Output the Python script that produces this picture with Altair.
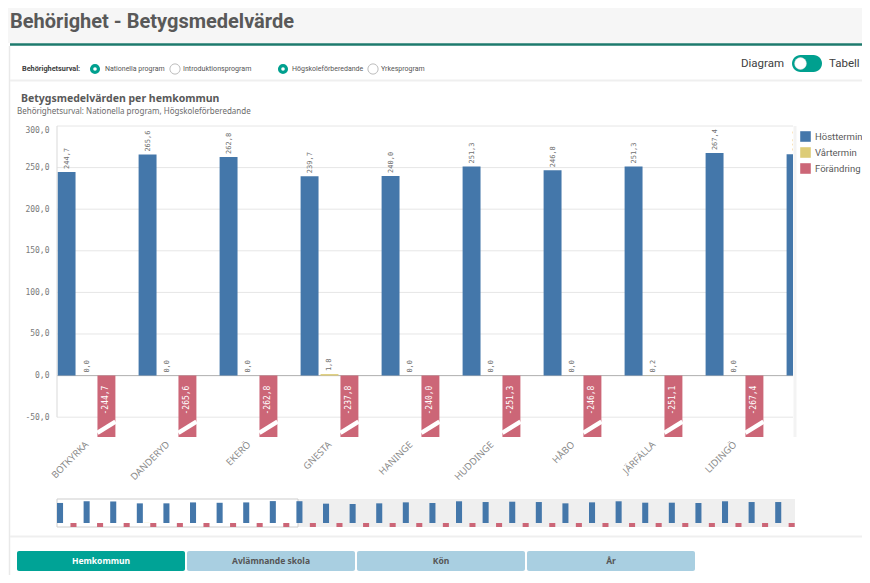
import altair as alt
import pandas as pd

# ---------------- data ----------------
kommuner = ["BOTKYRKA", "DANDERYD", "EKERÖ", "GNESTA", "HANINGE", "HUDDINGE", "HÅBO",
            "JÄRFÄLLA", "LIDINGÖ", "NACKA", "NORRTÄLJE", "NYKVARN", "NYNÄSHAMN", "SALEM",
            "SIGTUNA", "SOLLENTUNA", "SOLNA", "STOCKHOLM", "SUNDBYBERG", "SÖDERTÄLJE",
            "TYRESÖ", "TÄBY", "UPPLANDS VÄSBY", "UPPLANDS-BRO", "VALLENTUNA", "VAXHOLM",
            "VÄRMDÖ", "ÖSTERÅKER"]
hosttermin = [244.7, 265.6, 262.8, 239.7, 240.0, 251.3, 246.8, 251.3, 267.4,
              266.0, 236.0, 232.0, 240.0, 252.0, 244.0, 265.0, 256.0, 260.0, 256.0,
              240.0, 252.0, 265.0, 248.0, 248.0, 244.0, 265.0, 256.0, 256.0]
vartermin = [0.0, 0.0, 0.0, 1.8, 0.0, 0.0, 0.0, 0.2, 0.0,
             0.0, 0.0, 0.0, 0.0, 0.0, 0.0, 0.0, 0.0, 0.0, 0.0,
             0.0, 0.0, 0.0, 0.0, 0.0, 0.0, 0.0, 0.0, 0.0]
forandring = [-244.7, -265.6, -262.8, -237.8, -240.0, -251.3, -246.8, -251.1, -267.4,
              -266.0, -236.0, -232.0, -240.0, -252.0, -244.0, -265.0, -256.0, -260.0, -256.0,
              -240.0, -252.0, -265.0, -248.0, -248.0, -244.0, -265.0, -256.0, -256.0]
series = ["Hösttermin", "Vårtermin", "Förändring"]
colors = ["#4477aa", "#ddcc77", "#cc6677"]
y_ticks = [-50, 0, 50, 100, 150, 200, 250, 300]
tabs = ["Hemkommun", "Avlämnande skola", "Kön", "År"]
n_window = 10        # groups inside the scroll window (9 labelled + 1 cut off)

rows = []
for i, k in enumerate(kommuner):
    for s, vals in zip(series, [hosttermin, vartermin, forandring]):
        rows.append({"kommun": k, "serie": s, "value": vals[i]})
long = pd.DataFrame(rows)
main_df = long[long["kommun"].isin(kommuner[:n_window])]
tick_df = pd.DataFrame({"t": y_ticks})

LBL = "replace(replace(format(datum.value, '.1f'), '.', ','), '\u2212', '-')"

OX, OY = 57, 126          # page position of plot origin
W, H = 736, 311
deco = pd.DataFrame({"d": [0]})


def R(x1, y1, x2, y2, **kw):
    return alt.Chart(deco).mark_rect(**kw).encode(
        x=alt.value(x1 - OX), x2=alt.value(x2 - OX),
        y=alt.value(y1 - OY), y2=alt.value(y2 - OY))


def HL(x1, x2, y, color, w):
    return alt.Chart(deco).mark_rule(color=color, strokeWidth=w).encode(
        x=alt.value(x1 - OX), x2=alt.value(x2 - OX), y=alt.value(y - OY))


def VL(x, y1, y2, color, w):
    return alt.Chart(deco).mark_rule(color=color, strokeWidth=w).encode(
        x=alt.value(x - OX), y=alt.value(y1 - OY), y2=alt.value(y2 - OY))


def T(s, x, y, size, color, weight="normal", font="Roboto", align="left", baseline="middle"):
    return alt.Chart(deco).mark_text(text=s, fontSize=size, color=color, fontWeight=weight,
                                     font=font, align=align, baseline=baseline).encode(
        x=alt.value(x - OX), y=alt.value(y - OY))


def C(x, y, size, **kw):
    return alt.Chart(deco).mark_point(shape="circle", size=size, opacity=1, **kw).encode(
        x=alt.value(x - OX), y=alt.value(y - OY))


teal = "#00a08f"
decos = [
    R(8, 8, 862, 43, color="#f6f6f6"),
    T("Behörighet - Betygsmedelvärde", 10, 28, 20, "#595959", "bold", "Roboto", baseline="alphabetic"),
    HL(10, 862, 44.5, "#1d7a6d", 2.5),
    VL(9.5, 46, 575, "#e9e9e9", 1.5),
    T("Behörighetsurval:", 22, 69, 7.3, "#404040", "bold"),
    C(95, 69, 102, filled=True, color=teal),
    C(95, 69, 13, filled=True, color="white"),
    T("Nationella program", 105, 69, 7, "#555555"),
    C(175, 69, 105, filled=True, color="white", stroke="#bdbdbd", strokeWidth=1),
    T("Introduktionsprogram", 183, 69, 7.1, "#555555"),
    C(283, 69, 102, filled=True, color=teal),
    C(283, 69, 13, filled=True, color="white"),
    T("Högskoleförberedande", 292, 69, 7, "#555555"),
    C(373, 69, 105, filled=True, color="white", stroke="#bdbdbd", strokeWidth=1),
    T("Yrkesprogram", 381, 69, 7, "#555555"),
    T("Diagram", 741, 63.5, 11.5, "#404040", font="Roboto"),
    R(792, 55, 822, 72, color=teal, cornerRadius=8.5),
    C(800.5, 63.5, 140, filled=True, color="white", stroke="#d6d6d6", strokeWidth=0.5),
    T("Tabell", 829, 63.5, 11.5, "#404040", font="Roboto"),
    HL(10, 862, 80.5, "#efefef", 2),
    T("Betygsmedelvärden per hemkommun", 21, 99, 10.5, "#595959", "bold", "Noto Sans"),
    T("Behörighetsurval: Nationella program, Högskoleförberedande", 17, 112, 8, "#6b6b6b", font="Noto Sans"),
    VL(795, 126, 437, "#f3f3f3", 3),
    R(57, 499, 795, 527, color="#efefef"),
    R(57, 499, 298, 527, fill="white", stroke="#cdcdcd", strokeWidth=1),
    HL(10, 862, 536.5, "#efefef", 2),
]

# ---------------- main chart ----------------
y_scale = alt.Scale(domain=[-73.8, 300], nice=False, zero=False, clamp=True)
y_axis = alt.Axis(values=y_ticks, title=None, ticks=False, domain=False, grid=False,
                  labelExpr=LBL, labelFont="DejaVu Sans Mono", labelFontSize=8,
                  labelColor="#7a7a7a", labelPadding=8, labelFlush=True)
x_main = alt.X("kommun:N",
               scale=alt.Scale(domain=kommuner[:n_window], range=[0, 788],
                               paddingInner=0.2716, paddingOuter=0),
               axis=alt.Axis(values=kommuner[:9], title=None, labelAngle=-45, ticks=False,
                             domain=False, grid=False, labelFont="Noto Sans",
                             labelFontSize=9.5, labelColor="#8a8a8a", labelPadding=2,
                             labelOffset=-3))
xo_main = alt.XOffset("serie:N", scale=alt.Scale(domain=series, range=[0, 59],
                                                 paddingInner=0.1, paddingOuter=0.03))
y_val = alt.Y("value:Q", scale=y_scale, axis=y_axis)

base = alt.Chart(main_df).transform_calculate(lbl=LBL)

grid = alt.Chart(tick_df).mark_rule(color="#e6e6e6", strokeWidth=1).encode(
    x=alt.value(0), x2=alt.value(W), y=alt.Y("t:Q", scale=y_scale, axis=y_axis))
zero_rule = alt.Chart(deco).mark_rule(color="#b3b3b3", strokeWidth=1).encode(
    x=alt.value(0), x2=alt.value(W), y=alt.YDatum(0, scale=y_scale, axis=y_axis))
y_line = alt.Chart(deco).mark_rule(color="#d9d9d9", strokeWidth=1).encode(
    x=alt.value(0), y=alt.YDatum(300, scale=y_scale, axis=y_axis), y2=alt.Y2Datum(-50))

bars = base.mark_bar(clip=True).encode(
    x=x_main, xOffset=xo_main, y=y_val, y2=alt.Y2Datum(0),
    color=alt.Color("serie:N", scale=alt.Scale(domain=series, range=colors),
                    legend=alt.Legend(title=None, orient="none", legendX=743, legendY=5,
                                      symbolType="square", symbolSize=112,
                                      symbolStrokeWidth=0, labelFont="Roboto",
                                      labelFontSize=9.5, labelColor="#595959",
                                      labelOffset=4, rowPadding=5, padding=0)))

top_lbl = base.transform_filter("datum.serie != 'Förändring'").mark_text(
    angle=270, align="left", baseline="middle", dx=3, font="DejaVu Sans Mono",
    fontSize=7, color="#6e6e6e", clip=True).encode(
    x=x_main, xOffset=xo_main, y=y_val, text="lbl:N")

red_lbl = base.transform_filter("datum.serie == 'Förändring'").mark_text(
    angle=270, align="right", baseline="middle", dx=-10, font="DejaVu Sans Mono",
    fontSize=8, color="white", clip=True).encode(
    x=x_main, xOffset=xo_main, y=alt.YDatum(0, scale=y_scale, axis=y_axis), text="lbl:N")

slash = base.transform_filter("datum.serie == 'Förändring'").mark_point(
    shape="M-1,0.62L1,-0.62", size=330, filled=False, color="white", strokeWidth=4.5,
    opacity=1, clip=True).encode(
    x=x_main, xOffset=xo_main, y=alt.YDatum(-62, scale=y_scale, axis=y_axis))

main_layer = alt.layer(grid, zero_rule, bars, y_line, top_lbl, red_lbl, slash)

# ---------------- mini (scroll) chart ----------------
mini = alt.Chart(long).mark_bar().encode(
    x=alt.X("kommun:N", scale=alt.Scale(domain=kommuner, range=[0, 737.7],
                                        paddingInner=0.267, paddingOuter=0), axis=None),
    xOffset=alt.XOffset("serie:N", scale=alt.Scale(domain=series, range=[0, 19.5],
                                                   paddingInner=0.1, paddingOuter=0)),
    y=alt.Y("value:Q", scale=alt.Scale(domain=[-49, 293], range=[401, 373], nice=False,
                                       zero=False, clamp=True), axis=None),
    y2=alt.Y2Datum(0),
    color=alt.Color("serie:N", scale=alt.Scale(domain=series, range=colors), legend=None))

# ---------------- tabs ----------------
tab_df = pd.DataFrame({"tab": tabs})
tab_x = alt.X("tab:N", scale=alt.Scale(domain=tabs, range=[-40, 638],
                                       paddingInner=0.0118, paddingOuter=0), axis=None)
sel = "datum.tab == 'Hemkommun'"
tab_bars = alt.Chart(tab_df).mark_bar(cornerRadius=2).encode(
    x=tab_x, y=alt.value(425), y2=alt.value(445),
    color=alt.condition(sel, alt.value("#00a396"), alt.value("#a9cfe1")))
tab_text = alt.Chart(tab_df).mark_text(font="Noto Sans", fontSize=8.5, fontWeight="bold").encode(
    x=tab_x, y=alt.value(435), text="tab:N",
    color=alt.condition(sel, alt.value("white"), alt.value("#555555")))
tabs_layer = alt.layer(tab_bars, tab_text)

chart = alt.layer(*decos, main_layer, mini, tabs_layer).resolve_scale(
    x="independent", y="independent", xOffset="independent", color="independent"
).properties(
    width=W, height=H,
    autosize=alt.AutoSizeParams(type="none"),
    padding={"left": OX - 8, "top": OY - 8, "right": 862 - OX - W, "bottom": 575 - OY - H},
    background="white",
).configure_view(stroke=None)

chart.save("out.html", embed_options={"renderer": "svg", "actions": False})
